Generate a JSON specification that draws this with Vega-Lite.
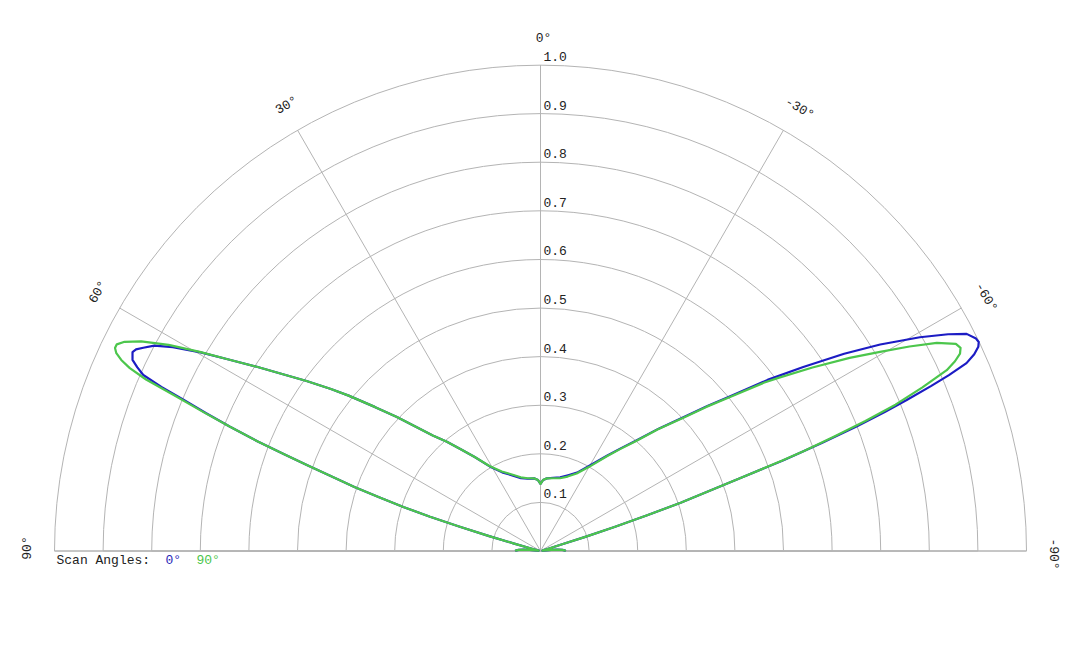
{
  "$schema": "https://vega.github.io/schema/vega-lite/v6.json",
  "width": 972,
  "height": 486,
  "autosize": {"type": "none"},
  "padding": {"left": 54.5, "top": 65, "right": 53.5, "bottom": 97},
  "background": "white",
  "config": {"view": {"stroke": null}, "font": "Liberation Mono"},
  "datasets": {
    "rings": [
      {"r": 0.1}, {"r": 0.2}, {"r": 0.3}, {"r": 0.4}, {"r": 0.5},
      {"r": 0.6}, {"r": 0.7}, {"r": 0.8}, {"r": 0.9}, {"r": 1.0}
    ],
    "spokes": [
      {"angle": -90}, {"angle": -60}, {"angle": -30}, {"angle": 0},
      {"angle": 30}, {"angle": 60}, {"angle": 90}
    ],
    "angleLabels": [
      {"angle": 0, "label": "0°"},
      {"angle": 30, "label": "30°"},
      {"angle": 60, "label": "60°"},
      {"angle": 90, "label": "90°"},
      {"angle": -30, "label": "-30°"},
      {"angle": -60, "label": "-60°"},
      {"angle": -90, "label": "-90°"}
    ],
    "pattern": [
      {"scan": "0°", "theta": -90, "r": 0.052},
      {"scan": "0°", "theta": -88.5, "r": 0.05},
      {"scan": "0°", "theta": -87, "r": 0.045},
      {"scan": "0°", "theta": -85.5, "r": 0.035},
      {"scan": "0°", "theta": -84, "r": 0.022},
      {"scan": "0°", "theta": -82, "r": 0.01},
      {"scan": "0°", "theta": -79, "r": 0.004},
      {"scan": "0°", "theta": -76, "r": 0.005},
      {"scan": "0°", "theta": -73.5, "r": 0.015},
      {"scan": "0°", "theta": -72.9, "r": 0.045},
      {"scan": "0°", "theta": -72.5, "r": 0.095},
      {"scan": "0°", "theta": -72, "r": 0.16},
      {"scan": "0°", "theta": -71.5, "r": 0.23},
      {"scan": "0°", "theta": -71, "r": 0.305},
      {"scan": "0°", "theta": -70.5, "r": 0.36},
      {"scan": "0°", "theta": -70, "r": 0.43},
      {"scan": "0°", "theta": -69.5, "r": 0.535},
      {"scan": "0°", "theta": -69, "r": 0.62},
      {"scan": "0°", "theta": -68.5, "r": 0.7},
      {"scan": "0°", "theta": -68, "r": 0.765},
      {"scan": "0°", "theta": -67.6, "r": 0.815},
      {"scan": "0°", "theta": -67.1, "r": 0.872},
      {"scan": "0°", "theta": -66.7, "r": 0.915},
      {"scan": "0°", "theta": -66.2, "r": 0.958},
      {"scan": "0°", "theta": -65.6, "r": 0.98},
      {"scan": "0°", "theta": -65, "r": 0.994},
      {"scan": "0°", "theta": -64.5, "r": 0.999},
      {"scan": "0°", "theta": -64, "r": 0.997},
      {"scan": "0°", "theta": -63, "r": 0.984},
      {"scan": "0°", "theta": -62, "r": 0.95},
      {"scan": "0°", "theta": -60.6, "r": 0.896},
      {"scan": "0°", "theta": -58.7, "r": 0.818},
      {"scan": "0°", "theta": -57, "r": 0.745},
      {"scan": "0°", "theta": -55, "r": 0.66},
      {"scan": "0°", "theta": -53, "r": 0.585},
      {"scan": "0°", "theta": -51, "r": 0.51},
      {"scan": "0°", "theta": -49, "r": 0.455},
      {"scan": "0°", "theta": -47, "r": 0.405},
      {"scan": "0°", "theta": -44, "r": 0.35},
      {"scan": "0°", "theta": -41, "r": 0.302},
      {"scan": "0°", "theta": -38, "r": 0.268},
      {"scan": "0°", "theta": -35, "r": 0.24},
      {"scan": "0°", "theta": -30, "r": 0.203},
      {"scan": "0°", "theta": -25, "r": 0.178},
      {"scan": "0°", "theta": -20, "r": 0.166},
      {"scan": "0°", "theta": -15, "r": 0.157},
      {"scan": "0°", "theta": -10, "r": 0.153},
      {"scan": "0°", "theta": -5, "r": 0.15},
      {"scan": "0°", "theta": -2, "r": 0.146},
      {"scan": "0°", "theta": 0, "r": 0.138},
      {"scan": "0°", "theta": 2, "r": 0.146},
      {"scan": "0°", "theta": 5, "r": 0.15},
      {"scan": "0°", "theta": 10, "r": 0.151},
      {"scan": "0°", "theta": 15, "r": 0.155},
      {"scan": "0°", "theta": 20, "r": 0.165},
      {"scan": "0°", "theta": 26, "r": 0.18},
      {"scan": "0°", "theta": 31, "r": 0.203},
      {"scan": "0°", "theta": 35, "r": 0.236},
      {"scan": "0°", "theta": 38, "r": 0.265},
      {"scan": "0°", "theta": 40.6, "r": 0.296},
      {"scan": "0°", "theta": 43, "r": 0.325},
      {"scan": "0°", "theta": 45, "r": 0.36},
      {"scan": "0°", "theta": 47, "r": 0.404},
      {"scan": "0°", "theta": 49, "r": 0.452},
      {"scan": "0°", "theta": 51, "r": 0.508},
      {"scan": "0°", "theta": 52.3, "r": 0.545},
      {"scan": "0°", "theta": 54, "r": 0.595},
      {"scan": "0°", "theta": 55.7, "r": 0.648},
      {"scan": "0°", "theta": 57, "r": 0.696},
      {"scan": "0°", "theta": 58.5, "r": 0.755},
      {"scan": "0°", "theta": 59.7, "r": 0.81},
      {"scan": "0°", "theta": 61, "r": 0.865},
      {"scan": "0°", "theta": 62, "r": 0.9},
      {"scan": "0°", "theta": 62.9, "r": 0.918},
      {"scan": "0°", "theta": 63.5, "r": 0.93},
      {"scan": "0°", "theta": 64, "r": 0.934},
      {"scan": "0°", "theta": 64.9, "r": 0.927},
      {"scan": "0°", "theta": 65.5, "r": 0.912},
      {"scan": "0°", "theta": 66.1, "r": 0.894},
      {"scan": "0°", "theta": 66.6, "r": 0.85},
      {"scan": "0°", "theta": 67, "r": 0.8},
      {"scan": "0°", "theta": 67.6, "r": 0.745},
      {"scan": "0°", "theta": 68.2, "r": 0.688},
      {"scan": "0°", "theta": 68.8, "r": 0.625},
      {"scan": "0°", "theta": 69.3, "r": 0.565},
      {"scan": "0°", "theta": 69.8, "r": 0.51},
      {"scan": "0°", "theta": 70.4, "r": 0.45},
      {"scan": "0°", "theta": 71, "r": 0.405},
      {"scan": "0°", "theta": 71.6, "r": 0.35},
      {"scan": "0°", "theta": 72.2, "r": 0.295},
      {"scan": "0°", "theta": 72.8, "r": 0.238},
      {"scan": "0°", "theta": 73.3, "r": 0.175},
      {"scan": "0°", "theta": 73.8, "r": 0.11},
      {"scan": "0°", "theta": 74.2, "r": 0.058},
      {"scan": "0°", "theta": 75, "r": 0.02},
      {"scan": "0°", "theta": 76, "r": 0.006},
      {"scan": "0°", "theta": 79, "r": 0.004},
      {"scan": "0°", "theta": 82, "r": 0.01},
      {"scan": "0°", "theta": 84, "r": 0.022},
      {"scan": "0°", "theta": 85.5, "r": 0.035},
      {"scan": "0°", "theta": 87, "r": 0.045},
      {"scan": "0°", "theta": 88.5, "r": 0.05},
      {"scan": "0°", "theta": 90, "r": 0.052},
      {"scan": "90°", "theta": -90, "r": 0.052},
      {"scan": "90°", "theta": -88.5, "r": 0.05},
      {"scan": "90°", "theta": -87, "r": 0.045},
      {"scan": "90°", "theta": -85.5, "r": 0.035},
      {"scan": "90°", "theta": -84, "r": 0.022},
      {"scan": "90°", "theta": -82, "r": 0.01},
      {"scan": "90°", "theta": -79, "r": 0.004},
      {"scan": "90°", "theta": -76, "r": 0.005},
      {"scan": "90°", "theta": -73.5, "r": 0.015},
      {"scan": "90°", "theta": -72.9, "r": 0.045},
      {"scan": "90°", "theta": -72.5, "r": 0.095},
      {"scan": "90°", "theta": -72, "r": 0.16},
      {"scan": "90°", "theta": -71.5, "r": 0.23},
      {"scan": "90°", "theta": -71, "r": 0.305},
      {"scan": "90°", "theta": -70.5, "r": 0.36},
      {"scan": "90°", "theta": -70, "r": 0.43},
      {"scan": "90°", "theta": -69.5, "r": 0.53},
      {"scan": "90°", "theta": -69.2, "r": 0.58},
      {"scan": "90°", "theta": -68.7, "r": 0.65},
      {"scan": "90°", "theta": -68.2, "r": 0.72},
      {"scan": "90°", "theta": -67.6, "r": 0.79},
      {"scan": "90°", "theta": -66.8, "r": 0.855},
      {"scan": "90°", "theta": -66, "r": 0.915},
      {"scan": "90°", "theta": -65.4, "r": 0.938},
      {"scan": "90°", "theta": -64.8, "r": 0.954},
      {"scan": "90°", "theta": -64.2, "r": 0.96},
      {"scan": "90°", "theta": -63.5, "r": 0.955},
      {"scan": "90°", "theta": -62.3, "r": 0.921},
      {"scan": "90°", "theta": -61, "r": 0.868},
      {"scan": "90°", "theta": -59.6, "r": 0.81},
      {"scan": "90°", "theta": -58, "r": 0.75},
      {"scan": "90°", "theta": -56, "r": 0.675},
      {"scan": "90°", "theta": -54, "r": 0.607},
      {"scan": "90°", "theta": -53, "r": 0.575},
      {"scan": "90°", "theta": -51, "r": 0.505},
      {"scan": "90°", "theta": -49, "r": 0.452},
      {"scan": "90°", "theta": -47, "r": 0.402},
      {"scan": "90°", "theta": -44, "r": 0.348},
      {"scan": "90°", "theta": -41, "r": 0.3},
      {"scan": "90°", "theta": -38, "r": 0.266},
      {"scan": "90°", "theta": -35, "r": 0.238},
      {"scan": "90°", "theta": -30, "r": 0.2},
      {"scan": "90°", "theta": -25, "r": 0.176},
      {"scan": "90°", "theta": -20, "r": 0.163},
      {"scan": "90°", "theta": -15, "r": 0.155},
      {"scan": "90°", "theta": -10, "r": 0.152},
      {"scan": "90°", "theta": -5, "r": 0.15},
      {"scan": "90°", "theta": -2, "r": 0.146},
      {"scan": "90°", "theta": 0, "r": 0.138},
      {"scan": "90°", "theta": 2, "r": 0.146},
      {"scan": "90°", "theta": 5, "r": 0.15},
      {"scan": "90°", "theta": 10, "r": 0.152},
      {"scan": "90°", "theta": 15, "r": 0.157},
      {"scan": "90°", "theta": 20, "r": 0.167},
      {"scan": "90°", "theta": 26, "r": 0.182},
      {"scan": "90°", "theta": 31, "r": 0.204},
      {"scan": "90°", "theta": 35, "r": 0.236},
      {"scan": "90°", "theta": 38, "r": 0.265},
      {"scan": "90°", "theta": 40.6, "r": 0.296},
      {"scan": "90°", "theta": 43, "r": 0.325},
      {"scan": "90°", "theta": 45, "r": 0.36},
      {"scan": "90°", "theta": 47, "r": 0.404},
      {"scan": "90°", "theta": 49, "r": 0.452},
      {"scan": "90°", "theta": 51, "r": 0.508},
      {"scan": "90°", "theta": 52.3, "r": 0.545},
      {"scan": "90°", "theta": 54, "r": 0.595},
      {"scan": "90°", "theta": 55.7, "r": 0.648},
      {"scan": "90°", "theta": 57, "r": 0.696},
      {"scan": "90°", "theta": 58.5, "r": 0.755},
      {"scan": "90°", "theta": 59.7, "r": 0.812},
      {"scan": "90°", "theta": 61, "r": 0.875},
      {"scan": "90°", "theta": 62.3, "r": 0.928},
      {"scan": "90°", "theta": 63.3, "r": 0.958},
      {"scan": "90°", "theta": 64, "r": 0.97},
      {"scan": "90°", "theta": 64.5, "r": 0.97},
      {"scan": "90°", "theta": 65, "r": 0.963},
      {"scan": "90°", "theta": 65.5, "r": 0.948},
      {"scan": "90°", "theta": 66, "r": 0.925},
      {"scan": "90°", "theta": 66.5, "r": 0.885},
      {"scan": "90°", "theta": 67, "r": 0.815},
      {"scan": "90°", "theta": 67.6, "r": 0.75},
      {"scan": "90°", "theta": 68.2, "r": 0.688},
      {"scan": "90°", "theta": 68.8, "r": 0.625},
      {"scan": "90°", "theta": 69.3, "r": 0.565},
      {"scan": "90°", "theta": 69.8, "r": 0.51},
      {"scan": "90°", "theta": 70.4, "r": 0.45},
      {"scan": "90°", "theta": 71, "r": 0.405},
      {"scan": "90°", "theta": 71.6, "r": 0.35},
      {"scan": "90°", "theta": 72.2, "r": 0.295},
      {"scan": "90°", "theta": 72.8, "r": 0.238},
      {"scan": "90°", "theta": 73.3, "r": 0.175},
      {"scan": "90°", "theta": 73.8, "r": 0.11},
      {"scan": "90°", "theta": 74.2, "r": 0.058},
      {"scan": "90°", "theta": 75, "r": 0.02},
      {"scan": "90°", "theta": 76, "r": 0.006},
      {"scan": "90°", "theta": 79, "r": 0.004},
      {"scan": "90°", "theta": 82, "r": 0.01},
      {"scan": "90°", "theta": 84, "r": 0.022},
      {"scan": "90°", "theta": 85.5, "r": 0.035},
      {"scan": "90°", "theta": 87, "r": 0.045},
      {"scan": "90°", "theta": 88.5, "r": 0.05},
      {"scan": "90°", "theta": 90, "r": 0.052}
    ]
  },
  "layer": [
    {
      "data": {"name": "rings"},
      "mark": {
        "type": "arc",
        "theta": -1.5707963,
        "theta2": 1.5707963,
        "fillOpacity": 0,
        "stroke": "#b4b4b4",
        "strokeWidth": 1
      },
      "encoding": {
        "x": {"datum": 0, "type": "quantitative", "scale": {"domain": [-1, 1], "nice": false, "zero": false}, "axis": null},
        "y": {"datum": 0, "type": "quantitative", "scale": {"domain": [0, 1], "nice": false, "zero": false}, "axis": null},
        "radius": {"field": "r", "type": "quantitative", "stack": null, "scale": {"type": "linear", "domain": [0, 1], "range": [0, 486], "zero": true, "nice": false}, "legend": null}
      }
    },
    {
      "data": {"name": "spokes"},
      "transform": [
        {"calculate": "-sin(datum.angle * PI / 180)", "as": "xe"},
        {"calculate": "cos(datum.angle * PI / 180)", "as": "ye"},
        {"calculate": "0", "as": "origin"}
      ],
      "mark": {"type": "rule", "stroke": "#b4b4b4", "strokeWidth": 1},
      "encoding": {
        "x": {"field": "xe", "type": "quantitative"},
        "y": {"field": "ye", "type": "quantitative"},
        "x2": {"field": "origin"},
        "y2": {"field": "origin"}
      }
    },
    {
      "data": {"name": "rings"},
      "transform": [{"calculate": "0", "as": "origin"}],
      "mark": {"type": "text", "align": "left", "baseline": "middle", "dx": 3, "dy": -8, "fontSize": 13, "font": "Liberation Mono", "fill": "#222"},
      "encoding": {
        "x": {"field": "origin", "type": "quantitative"},
        "y": {"field": "r", "type": "quantitative"},
        "text": {"field": "r", "type": "quantitative", "format": ".1f"}
      }
    },
    {
      "data": {"name": "angleLabels"},
      "transform": [
        {"calculate": "-1.056 * sin(datum.angle * PI / 180)", "as": "lx"},
        {"calculate": "1.056 * cos(datum.angle * PI / 180)", "as": "ly"},
        {"calculate": "-datum.angle", "as": "rot"}
      ],
      "mark": {"type": "text", "align": "center", "baseline": "middle", "dx": 3, "fontSize": 13, "font": "Liberation Mono", "fill": "#222"},
      "encoding": {
        "x": {"field": "lx", "type": "quantitative"},
        "y": {"field": "ly", "type": "quantitative"},
        "angle": {"field": "rot", "type": "quantitative", "scale": null},
        "text": {"field": "label", "type": "nominal"}
      }
    },
    {
      "data": {"name": "pattern"},
      "transform": [
        {"calculate": "-datum.r * sin(datum.theta * PI / 180)", "as": "px"},
        {"calculate": "datum.r * cos(datum.theta * PI / 180)", "as": "py"}
      ],
      "mark": {"type": "line", "strokeWidth": 2.2, "strokeJoin": "round"},
      "encoding": {
        "x": {"field": "px", "type": "quantitative"},
        "y": {"field": "py", "type": "quantitative"},
        "order": {"field": "theta", "type": "quantitative"},
        "color": {
          "field": "scan",
          "type": "nominal",
          "scale": {"domain": ["0°", "90°"], "range": ["#1c1cc4", "#4cc64c"]},
          "legend": {
            "title": "Scan Angles:",
            "orient": "none",
            "legendX": 2,
            "legendY": 488,
            "direction": "horizontal",
            "titleOrient": "left",
            "titleFont": "Liberation Mono",
            "titleFontSize": 13,
            "titleFontWeight": "normal",
            "titleColor": "#222",
            "titlePadding": 2,
            "labelFont": "Liberation Mono",
            "labelFontSize": 13,
            "labelColor": {"expr": "datum.label == '0°' ? '#2828b8' : '#4cc64c'"},
            "symbolOpacity": 0,
            "symbolSize": 1,
            "symbolStrokeWidth": 0,
            "labelOffset": 0,
            "columnPadding": 2,
            "padding": 0
          }
        }
      }
    }
  ]
}
